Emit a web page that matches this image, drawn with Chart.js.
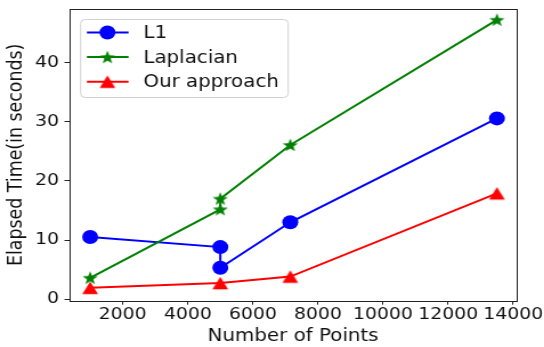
<!DOCTYPE html>
<html lang="en">
<head>
  <meta charset="UTF-8">
  <title>Elapsed Time vs Number of Points</title>
  <style>
    body{margin:0;background:#fff;overflow:hidden;}
    /* the source figure is a little wider than tall in its glyphs and markers,
       so the chart is drawn narrower and stretched back to 544px */
    #wrap{width:477px;height:347px;position:relative;transform:scaleX(1.1405);transform-origin:0 0;}
  </style>
  <script src="https://cdn.jsdelivr.net/npm/chart.js"></script>
</head>
<body>
<div id="wrap"><canvas id="chart"></canvas></div>
<script>
// values
const l1X   = [1000, 5000, 5000, 7150, 13500];
const l1Y   = [10.5, 8.8, 5.3, 13.0, 30.6];
const lapX  = [1000, 5000, 5000, 7150, 13500];
const lapY  = [3.6, 15.2, 17.0, 26.1, 47.3];
const oursX = [1000, 5000, 7150, 13500];
const oursY = [1.9, 2.7, 3.8, 17.9];
const xTicks = [2000, 4000, 6000, 8000, 10000, 12000, 14000];
const yTicks = [0, 10, 20, 30, 40];
const seriesNames = ['L1', 'Laplacian', 'Our approach'];

const FONT = "'DejaVu Sans', sans-serif";
const BLUE = '#0000ff', GREEN = '#008000', RED = '#ff0000';

// filled star / triangle markers (chart.js has no filled star)
function markerCanvas(kind, color){
  const s = 20, c = document.createElement('canvas');
  c.width = s; c.height = s;
  const g = c.getContext('2d');
  g.fillStyle = color;
  g.beginPath();
  if (kind === 'star') {
    const R = 7.0, r = R * 0.42;
    for (let i = 0; i < 10; i++) {
      const a = -Math.PI / 2 + i * Math.PI / 5, rr = i % 2 ? r : R;
      g.lineTo(s / 2 + rr * Math.cos(a), s / 2 + 0.6 + rr * Math.sin(a));
    }
  } else {
    g.moveTo(s / 2, s / 2 - 6.3);
    g.lineTo(s / 2 + 6.9, s / 2 + 6.3);
    g.lineTo(s / 2 - 6.9, s / 2 + 6.3);
  }
  g.closePath();
  g.fill();
  return c;
}
const starImg = markerCanvas('star', GREEN);
const triImg  = markerCanvas('tri', RED);

const pts = (xs, ys) => xs.map((x, i) => ({x, y: ys[i]}));

// full box around the plot area
const frame = {
  id: 'frame',
  afterDraw(chart){
    const {ctx, chartArea: a} = chart;
    ctx.save();
    ctx.strokeStyle = '#222';
    ctx.lineWidth = 1;
    ctx.strokeRect(Math.round(a.left) + 0.5, Math.round(a.top) + 0.5,
                   Math.round(a.right - a.left) - 1, Math.round(a.bottom - a.top));
    ctx.restore();
  }
};

// matplotlib style legend: line sample with marker in the middle
const legendBox = {
  id: 'legendBox',
  afterDraw(chart){
    const {ctx, chartArea: a} = chart;
    const x0 = a.left + 9.7, y0 = a.top + 10, w = 182, h = 78;
    ctx.save();
    ctx.fillStyle = 'rgba(255,255,255,0.8)';
    ctx.strokeStyle = '#d0d0d0';
    ctx.lineWidth = 1;
    ctx.beginPath();
    ctx.roundRect(x0 + 0.5, y0 + 0.5, w, h, 4);
    ctx.fill();
    ctx.stroke();
    const colors = [BLUE, GREEN, RED];
    chart.data.datasets.forEach((ds, i) => {
      const cy = y0 + 13.5 + i * 24.6;
      ctx.strokeStyle = colors[i];
      ctx.lineWidth = 2;
      ctx.beginPath();
      ctx.moveTo(x0 + 6, cy);
      ctx.lineTo(x0 + 42.5, cy);
      ctx.stroke();
      const mx = x0 + 24;
      if (i === 0) {
        ctx.fillStyle = BLUE;
        ctx.beginPath();
        ctx.arc(mx, cy, 7, 0, Math.PI * 2);
        ctx.fill();
      } else {
        const img = i === 1 ? starImg : triImg;
        ctx.drawImage(img, mx - img.width / 2, cy - img.height / 2);
      }
      ctx.fillStyle = '#111';
      ctx.font = '17.4px ' + FONT;
      ctx.textBaseline = 'middle';
      ctx.fillText(seriesNames[i], x0 + 55.5, cy + 1);
    });
    ctx.restore();
  }
};

const tickFont = {family: FONT, size: 16.5};
const titleFont = {family: FONT, size: 17.4};

new Chart(document.getElementById('chart'), {
  type: 'line',
  data: {
    datasets: [
      {label: seriesNames[0], data: pts(l1X, l1Y), order: 2,
       borderColor: BLUE, backgroundColor: BLUE, borderWidth: 2,
       pointStyle: 'circle', pointRadius: 7, pointBorderWidth: 0},
      {label: seriesNames[1], data: pts(lapX, lapY), order: 1,
       borderColor: GREEN, backgroundColor: GREEN, borderWidth: 2,
       pointStyle: starImg, pointRadius: 7},
      {label: seriesNames[2], data: pts(oursX, oursY), order: 0,
       borderColor: RED, backgroundColor: RED, borderWidth: 2,
       pointStyle: triImg, pointRadius: 7}
    ]
  },
  options: {
    responsive: true,
    maintainAspectRatio: false,
    animation: false,
    layout: {padding: {top: 5.7, right: 23.6, left: 0, bottom: 0}},
    plugins: {legend: {display: false}, tooltip: {enabled: false}},
    elements: {line: {tension: 0, fill: false}},
    scales: {
      x: {
        type: 'linear', min: 350, max: 14120,
        afterBuildTicks: s => { s.ticks = xTicks.map(v => ({value: v})); },
        afterFit: s => { s.height = 46.3; s.paddingLeft = 0; s.paddingRight = 0; },
        grid: {drawOnChartArea: false, drawTicks: true, tickLength: 4, color: '#222'},
        border: {display: false},
        ticks: {font: tickFont, color: '#111', padding: 0, maxRotation: 0, autoSkip: false,
                callback: v => String(v)},
        title: {display: true, text: 'Number of Points', font: titleFont, color: '#111',
                padding: {top: 0, bottom: 0}}
      },
      y: {
        type: 'linear', min: -0.28, max: 49.13,
        afterBuildTicks: s => { s.ticks = yTicks.map(v => ({value: v})); },
        afterFit: s => { s.width = 60.5; s.paddingTop = 0; s.paddingBottom = 0; },
        grid: {drawOnChartArea: false, drawTicks: true, tickLength: 4, color: '#222'},
        border: {display: false},
        ticks: {font: tickFont, color: '#111', padding: 4.8, callback: v => String(v)},
        title: {display: true, text: 'Elapsed Time(in seconds)', font: titleFont, color: '#111',
                padding: {top: 4.5, bottom: 0}}
      }
    }
  },
  plugins: [frame, legendBox]
});
</script>
</body>
</html>
